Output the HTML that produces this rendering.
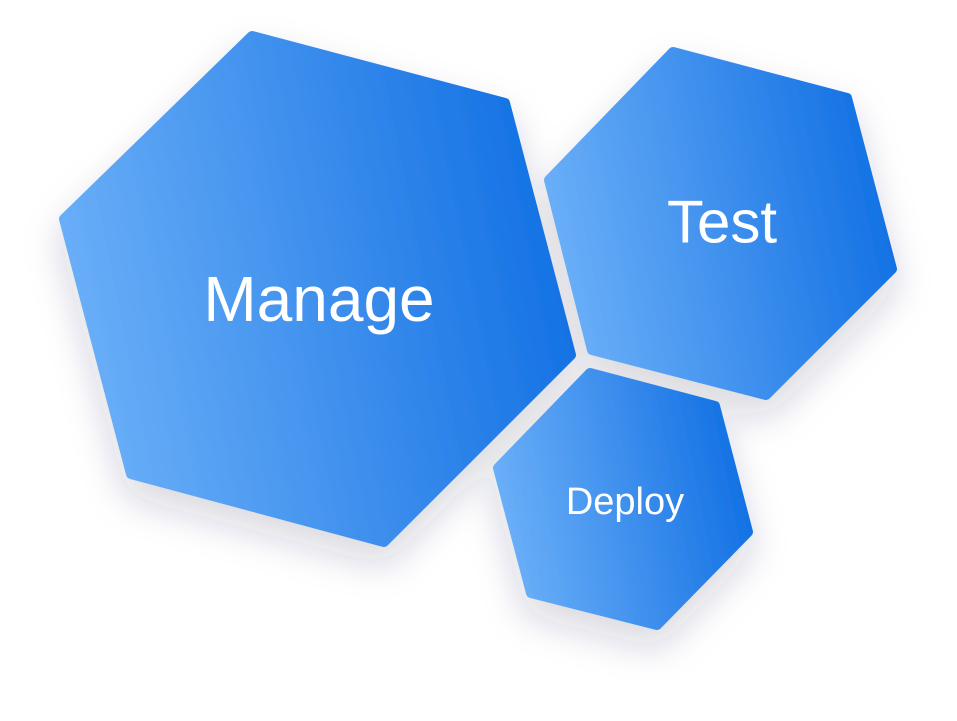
<!DOCTYPE html>
<html><head><meta charset="utf-8"><style>
html,body{margin:0;padding:0;background:#fff;width:957px;height:721px;overflow:hidden}
svg{display:block}
text{font-family:"Liberation Sans",sans-serif;fill:#fff;text-anchor:middle;dominant-baseline:central}
</style></head><body>
<svg width="957" height="721" viewBox="0 0 957 721">
<defs>
<linearGradient id="g" x1="0" y1="0.6" x2="1" y2="0.4">
<stop offset="0" stop-color="#6cb0f8"/><stop offset="1" stop-color="#1270e3"/>
</linearGradient>
<filter id="s" x="-30%" y="-30%" width="160%" height="160%">
<feDropShadow dx="0" dy="18" stdDeviation="18" flood-color="#1e2a50" flood-opacity="0.18"/>
</filter>
</defs>
<g filter="url(#s)" stroke-linejoin="round" stroke-width="10">
<polygon points="252,36 505,103 571,355 384,542 131,474 64,219" fill="url(#g)" stroke="url(#g)"/>
<polygon points="673,52 847,98 892,269 766,395 592,350 549,180" fill="url(#g)" stroke="url(#g)"/>
<polygon points="590,373 715,406 748,532 657,625 531,593 498,468" fill="url(#g)" stroke="url(#g)"/>
</g>
<text x="319" y="299" font-size="64">Manage</text>
<text x="722" y="222" font-size="60">Test</text>
<text x="625" y="502" font-size="38">Deploy</text>
</svg>
</body></html>
